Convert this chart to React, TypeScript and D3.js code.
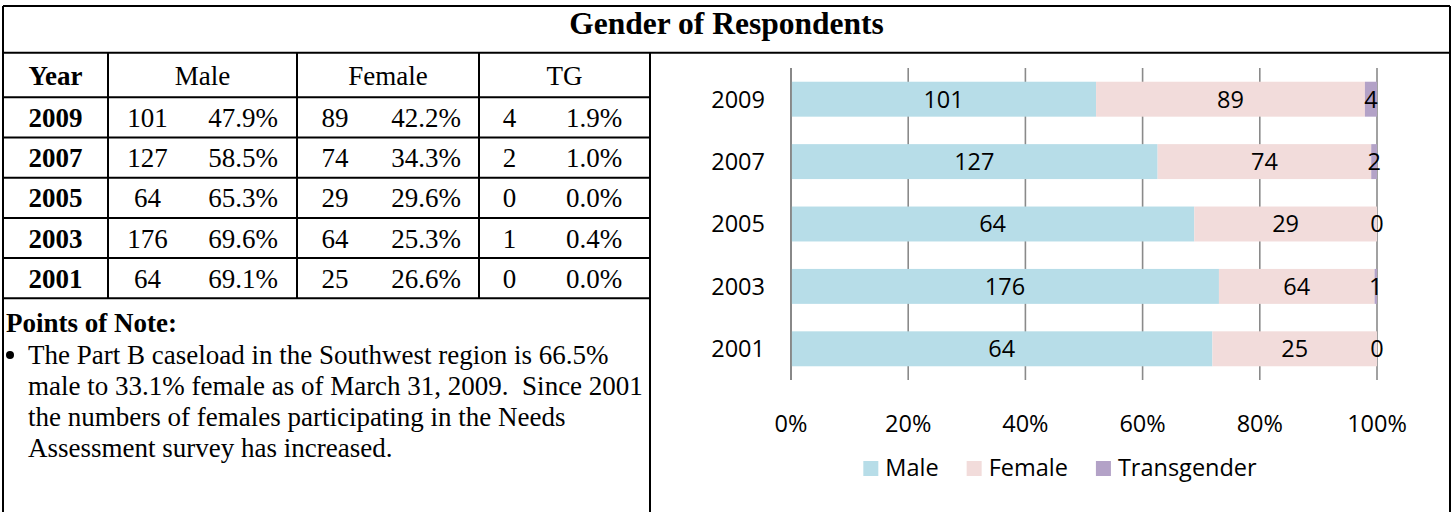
import React, { useMemo } from 'react';
import * as d3 from 'd3';

// ---- data ----
const years = ['2009', '2007', '2005', '2003', '2001'];
const maleCounts = [101, 127, 64, 176, 64];
const femaleCounts = [89, 74, 29, 64, 25];
const tgCounts = [4, 2, 0, 1, 0];
const malePct = ['47.9%', '58.5%', '65.3%', '69.6%', '69.1%'];
const femalePct = ['42.2%', '34.3%', '29.6%', '25.3%', '26.6%'];
const tgPct = ['1.9%', '1.0%', '0.0%', '0.4%', '0.0%'];
const seriesKeys = ['male', 'female', 'tg'];
const seriesNames = ['Male', 'Female', 'Transgender'];
const seriesColors = ['#B7DDE8', '#F2DCDB', '#B3A2C7'];
const xTicks = [0, 0.2, 0.4, 0.6, 0.8, 1];
const title = 'Gender of Respondents';
const tableHeaders = ['Year', 'Male', 'Female', 'TG'];
const noteHeading = 'Points of Note:';
const noteLines = [
  'The Part B caseload in the Southwest region is 66.5%',
  'male to 33.1% female as of March 31, 2009.  Since 2001',
  'the numbers of females participating in the Needs',
  'Assessment survey has increased.',
];

// ---- layout ----
const W = 1453;
const H = 512;
const frameL = 3;
const frameR = 1450;
const frameT = 6;
const titleB = 52.7;
const headerB = 97.3;
const rowH = 40.2;
const panelR = 650;
const colLines = [frameL, 108, 297, 479, panelR];
const countCenters = [147.5, 335, 509.5];
const pctCenters = [243, 426, 594];
const serif = '"Liberation Serif", "Times New Roman", serif';
const sans = '"Open Sans", "Noto Sans", sans-serif';
const tableFs = 27;
const chartFs = 23.5;

const plotL = 791;
const plotR = 1377;
const plotT = 68;
const plotB = 380;

export default function App() {
  const rows = years.map((y, i) => ({
    year: y,
    male: maleCounts[i],
    female: femaleCounts[i],
    tg: tgCounts[i],
  }));
  const x = d3.scaleLinear().domain([0, 1]).range([plotL, plotR]);
  const yb = d3.scaleBand<string>().domain(years).range([plotT, plotB]).paddingInner(0.44).paddingOuter(0.22);
  const stacked = d3.stack<any>().keys(seriesKeys).offset(d3.stackOffsetExpand)(rows);

  const legend = useMemo(() => {
    const ctx = document.createElement('canvas').getContext('2d')!;
    ctx.font = `${chartFs}px "Open Sans"`;
    const sq = 15;
    const gapIn = 7;
    const gapOut = 28;
    const widths = seriesNames.map((n) => ctx.measureText(n).width);
    const total = widths.reduce((a, w) => a + sq + gapIn + w, 0) + gapOut * (seriesNames.length - 1);
    const cx = (panelR + frameR) / 2 + 10;
    let cur = cx - total / 2;
    return seriesNames.map((n, i) => {
      const item = { name: n, color: seriesColors[i], x: cur, tx: cur + sq + gapIn, sq };
      cur += sq + gapIn + widths[i] + gapOut;
      return item;
    });
  }, []);

  const rowTop = (i: number) => headerB + i * rowH;
  const lineStyle = { stroke: '#000', strokeWidth: 2 };

  return (
    <svg width={W} height={H} style={{ position: 'absolute', left: 0, top: 0, background: '#fff' }}>
      <rect x={0} y={0} width={W} height={H} fill="#fff" />
      {/* frame */}
      <line x1={frameL} x2={frameR} y1={frameT} y2={frameT} {...lineStyle} />
      <line x1={frameL} x2={frameL} y1={frameT} y2={H} {...lineStyle} />
      <line x1={frameR} x2={frameR} y1={frameT} y2={H} {...lineStyle} />
      <line x1={frameL} x2={frameR} y1={titleB} y2={titleB} {...lineStyle} />
      <line x1={panelR} x2={panelR} y1={titleB} y2={H} {...lineStyle} />
      <text x={(frameL + frameR) / 2} y={34} textAnchor="middle" fontFamily={serif} fontWeight="bold" fontSize={31.5}>
        {title}
      </text>

      {/* table */}
      {colLines.slice(1, -1).map((cx, i) => (
        <line key={'c' + i} x1={cx} x2={cx} y1={titleB} y2={rowTop(years.length)} {...lineStyle} />
      ))}
      <line x1={frameL} x2={panelR} y1={headerB} y2={headerB} {...lineStyle} />
      {years.map((_, i) => (
        <line key={'r' + i} x1={frameL} x2={panelR} y1={rowTop(i + 1)} y2={rowTop(i + 1)} {...lineStyle} />
      ))}
      {tableHeaders.map((h, i) => (
        <text
          key={'h' + i}
          x={(colLines[i] + colLines[i + 1]) / 2}
          y={(titleB + headerB) / 2 + 9.5}
          textAnchor="middle"
          fontFamily={serif}
          fontWeight={i === 0 ? 'bold' : 'normal'}
          fontSize={tableFs}
        >
          {h}
        </text>
      ))}
      {years.map((yr, i) => {
        const cy = rowTop(i) + rowH / 2 + 9.5;
        const counts = [maleCounts[i], femaleCounts[i], tgCounts[i]];
        const pcts = [malePct[i], femalePct[i], tgPct[i]];
        return (
          <g key={'row' + yr} fontFamily={serif} fontSize={tableFs}>
            <text x={(colLines[0] + colLines[1]) / 2} y={cy} textAnchor="middle" fontWeight="bold">
              {yr}
            </text>
            {counts.map((c, j) => (
              <text key={'n' + j} x={countCenters[j]} y={cy} textAnchor="middle">
                {c}
              </text>
            ))}
            {pcts.map((p, j) => (
              <text key={'p' + j} x={pctCenters[j]} y={cy} textAnchor="middle">
                {p}
              </text>
            ))}
          </g>
        );
      })}

      {/* notes */}
      <text x={6} y={332} fontFamily={serif} fontWeight="bold" fontSize={tableFs}>
        {noteHeading}
      </text>
      <circle cx={10} cy={355} r={4} fill="#000" />
      {noteLines.map((l, i) => (
        <text key={'nl' + i} x={28} y={364 + i * 31} fontFamily={serif} fontSize={tableFs} style={{ whiteSpace: 'pre' }}>
          {l}
        </text>
      ))}

      {/* chart gridlines */}
      {xTicks.map((t) => (
        <line key={'g' + t} x1={x(t)} x2={x(t)} y1={plotT} y2={plotB} stroke="#8A8A8A" strokeWidth={1.6} />
      ))}
      {/* bars */}
      {stacked.map((s, si) => (
        <g key={'s' + si} fill={seriesColors[si]}>
          {s.map((d: any, di: number) => (
            <rect
              key={di}
              x={x(d[0])}
              y={yb(years[di])!}
              width={Math.max(0, x(d[1]) - x(d[0]))}
              height={yb.bandwidth()}
            />
          ))}
        </g>
      ))}
      {/* axis line */}
      <line x1={plotL} x2={plotL} y1={plotT} y2={plotB} stroke="#868686" strokeWidth={1.8} />
      {/* data labels */}
      {stacked.map((s, si) => (
        <g key={'l' + si} fontFamily={sans} fontSize={chartFs} fill="#000" textAnchor="middle">
          {s.map((d: any, di: number) => (
            <text key={di} x={(x(d[0]) + x(d[1])) / 2} y={yb(years[di])! + yb.bandwidth() / 2} dy="0.36em">
              {(d.data as any)[seriesKeys[si]]}
            </text>
          ))}
        </g>
      ))}
      {/* y labels */}
      {years.map((yr) => (
        <text
          key={'y' + yr}
          x={plotL - 26}
          y={yb(yr)! + yb.bandwidth() / 2}
          dy="0.36em"
          textAnchor="end"
          fontFamily={sans}
          fontSize={chartFs}
        >
          {yr}
        </text>
      ))}
      {/* x labels */}
      {xTicks.map((t) => (
        <text key={'x' + t} x={x(t)} y={432} textAnchor="middle" fontFamily={sans} fontSize={chartFs}>
          {d3.format('.0%')(t)}
        </text>
      ))}
      {/* legend */}
      {legend.map((l) => (
        <g key={'lg' + l.name}>
          <rect x={l.x} y={461} width={l.sq} height={l.sq} fill={l.color} />
          <text x={l.tx} y={476} fontFamily={sans} fontSize={chartFs}>
            {l.name}
          </text>
        </g>
      ))}
    </svg>
  );
}
